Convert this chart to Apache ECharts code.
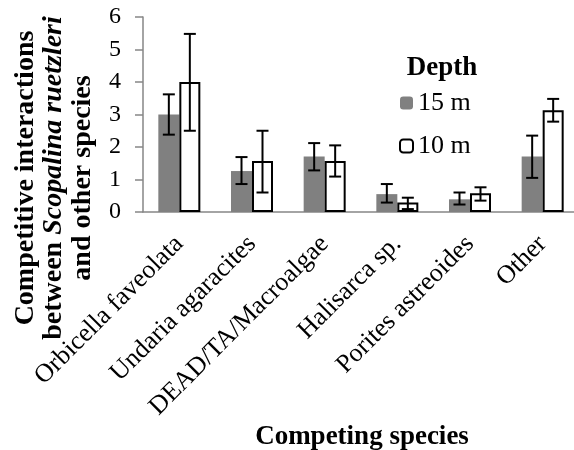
<!DOCTYPE html>
<html>
<head>
<meta charset="utf-8">
<script src="https://cdn.jsdelivr.net/npm/echarts@6/dist/echarts.min.js"></script>
<style>
  html, body { margin: 0; padding: 0; background: #fff; }
  #chart { width: 574px; height: 450px; }
</style>
</head>
<body>
<div id="chart"></div>
<script>
const categories = ['Orbicella faveolata', 'Undaria agaracites', 'DEAD/TA/Macroalgae', 'Halisarca sp.', 'Porites astreoides', 'Other']
const seriesNames = ['15 m', '10 m']
const mean15 = [3.0, 1.26, 1.71, 0.55, 0.39, 1.71]
const low15 = [2.38, 0.86, 1.28, 0.29, 0.23, 1.05]
const high15 = [3.62, 1.69, 2.12, 0.86, 0.60, 2.35]
const mean10 = [4.0, 1.57, 1.57, 0.29, 0.58, 3.13]
const low10 = [2.50, 0.60, 1.09, 0.09, 0.35, 2.78]
const high10 = [5.48, 2.50, 2.05, 0.44, 0.76, 3.48]
const yTicks = [0, 1, 2, 3, 4, 5, 6]

const font = "'Liberation Serif', 'Times New Roman', serif"
const barWidth = 21

// error bars drawn as custom series, shifted to sit on each bar
function errorBars(offset) {
  return function (params, api) {
    const i = api.value(0)
    const lo = api.coord([i, api.value(1)])
    const hi = api.coord([i, api.value(2)])
    const x = lo[0] + offset
    const style = { stroke: '#000', lineWidth: 2 }
    return {
      type: 'group',
      children: [
        { type: 'line', shape: { x1: x, y1: hi[1], x2: x, y2: lo[1] }, style: style },
        { type: 'line', shape: { x1: x - 6, y1: hi[1], x2: x + 6, y2: hi[1] }, style: style },
        { type: 'line', shape: { x1: x - 6, y1: lo[1], x2: x + 6, y2: lo[1] }, style: style }
      ]
    }
  }
}

const chart = echarts.init(document.getElementById('chart'))
const option = {
  animation: false,
  textStyle: { fontFamily: font },
  grid: { left: 143, top: 17, width: 436, height: 195, containLabel: false, outerBoundsMode: 'none' },
  legend: {
    data: seriesNames,
    orient: 'vertical',
    left: 399,
    top: 90,
    padding: 0,
    itemWidth: 13,
    itemHeight: 13,
    itemGap: 17,
    textStyle: { fontFamily: font, fontSize: 26, color: '#000' }
  },
  graphic: [
    {
      type: 'text',
      x: 442,
      y: 68,
      style: {
        text: 'Depth',
        font: 'bold 27px ' + font,
        fill: '#000',
        textAlign: 'center',
        textVerticalAlign: 'middle'
      }
    },
    {
      type: 'text',
      x: 362,
      y: 437,
      style: {
        text: 'Competing species',
        font: 'bold 27px ' + font,
        fill: '#000',
        textAlign: 'center',
        textVerticalAlign: 'middle'
      }
    },
    {
      type: 'text',
      x: 54,
      y: 178,
      rotation: Math.PI / 2,
      style: {
        text: '{b|Competitive interactions}\n{b|between }{i|Scopalina ruetzleri}\n{b|and other species}',
        textAlign: 'center',
        textVerticalAlign: 'middle',
        fill: '#000',
        rich: {
          b: { fontFamily: font, fontWeight: 'bold', fontSize: 28, lineHeight: 28.5 },
          i: { fontFamily: font, fontWeight: 'bold', fontStyle: 'italic', fontSize: 28, lineHeight: 28.5 }
        }
      }
    }
  ],
  xAxis: {
    type: 'category',
    data: categories,
    axisLine: { lineStyle: { color: '#868686', width: 1.5 } },
    axisTick: { length: 7, lineStyle: { color: '#868686', width: 1.5 } },
    axisLabel: { rotate: 45, interval: 0, margin: 28, fontSize: 26, color: '#000', fontFamily: font }
  },
  yAxis: {
    type: 'value',
    min: yTicks[0],
    max: yTicks[yTicks.length - 1],
    interval: 1,
    axisLine: { show: true, lineStyle: { color: '#868686', width: 1.5 } },
    axisTick: { show: true, length: 8, lineStyle: { color: '#868686', width: 1.5 } },
    splitLine: { show: false },
    axisLabel: { margin: 22, fontSize: 24, color: '#000', fontFamily: font }
  },
  series: [
    {
      name: seriesNames[0],
      type: 'bar',
      data: mean15,
      barWidth: barWidth,
      barGap: '0%',
      itemStyle: { color: '#808080' }
    },
    {
      name: seriesNames[1],
      type: 'bar',
      data: mean10,
      barWidth: barWidth,
      barGap: '0%',
      itemStyle: { color: '#fff', borderColor: '#000', borderWidth: 2 }
    },
    {
      type: 'custom',
      renderItem: errorBars(-barWidth / 2),
      data: categories.map((c, i) => [i, low15[i], high15[i]]),
      z: 5
    },
    {
      type: 'custom',
      renderItem: errorBars(barWidth / 2),
      data: categories.map((c, i) => [i, low10[i], high10[i]]),
      z: 5
    }
  ]
}
chart.setOption(option)
</script>
</body>
</html>
